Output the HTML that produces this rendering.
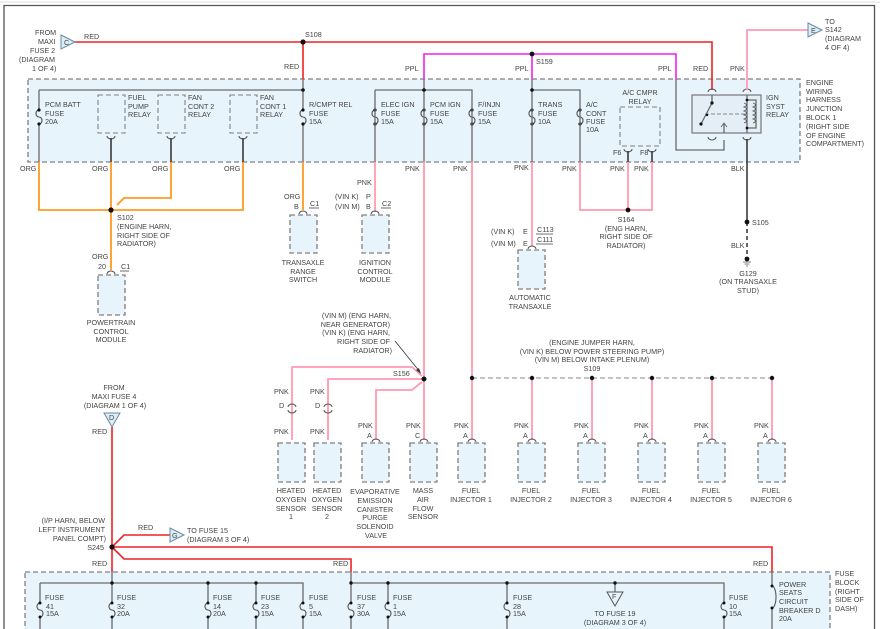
<!DOCTYPE html>
<html><head><meta charset="utf-8"><style>
html,body{margin:0;padding:0;background:#fff;}
svg{display:block;}
text{font-family:"Liberation Sans",sans-serif;font-size:7.2px;fill:#444;}
.g{stroke:#6a6a6a;stroke-width:1.3;fill:none;}
.k{stroke:#3a3a3a;stroke-width:1.6;fill:none;}
.r{stroke:#ee2222;stroke-width:1.6;fill:none;}
.p{stroke:#ee22ee;stroke-width:1.6;fill:none;}
.n{stroke:#ff9ab2;stroke-width:1.8;fill:none;}
.o{stroke:#ff9922;stroke-width:1.8;fill:none;}
.b{stroke:#808080;stroke-width:1.3;stroke-dasharray:5,3;fill:#e8f4fc;}
.d{stroke:#808080;stroke-width:1.1;stroke-dasharray:5,3;fill:none;}
.f{stroke:#555;stroke-width:1.1;fill:none;}
</style></head><body>
<svg width="880" height="629" viewBox="0 0 880 629" xmlns="http://www.w3.org/2000/svg">
<rect x="0" y="0" width="880" height="629" fill="#fff"/>
<line x1="0" y1="2" x2="880" y2="2" stroke="#ddd" stroke-width="1"/>
<path d="M4,629 V5.5 H874.5 V629" stroke="#555" stroke-width="1.3" fill="none"/>

<!-- junction block -->
<rect x="28" y="79" width="772" height="83" class="b"/>
<!-- fuse block bottom -->
<rect x="25" y="572" width="805" height="70" class="b"/>

<!-- RED top -->
<path class="r" d="M75,42 H712 V90"/>
<path class="r" d="M303,42 V79"/>
<circle cx="303" cy="42" r="2.6" fill="#111"/>
<polygon points="61,35 75,42 61,49" fill="#dbeef8" stroke="#6a8aa0" stroke-width="1"/>
<text x="64" y="45" font-size="6.5">C</text>
<text x="84" y="39">RED</text>
<text x="305" y="37">S108</text>
<text x="284" y="69">RED</text>
<text x="35" y="35">FROM</text><text x="38" y="44">MAXI</text><text x="30" y="53">FUSE 2</text><text x="19" y="62">(DIAGRAM</text><text x="32" y="71">1 OF 4)</text>

<!-- left bus -->
<path class="g" d="M39,90 H303 M303,79 V162"/>
<circle cx="303" cy="90" r="1.8" fill="#111"/>
<path class="g" d="M39,90 V162"/>
<!-- fuses symbol helper drawn manually -->
<g class="f">
<path d="M39,110 a3,3.5 0 0 0 0,7 a3,3.5 0 0 1 0,7"/>
<path d="M303,110 a3,3.5 0 0 0 0,7 a3,3.5 0 0 1 0,7"/>
<path d="M375,110 a3,3.5 0 0 0 0,7 a3,3.5 0 0 1 0,7"/>
<path d="M424,110 a3,3.5 0 0 0 0,7 a3,3.5 0 0 1 0,7"/>
<path d="M472,110 a3,3.5 0 0 0 0,7 a3,3.5 0 0 1 0,7"/>
<path d="M532,110 a3,3.5 0 0 0 0,7 a3,3.5 0 0 1 0,7"/>
<path d="M580,110 a3,3.5 0 0 0 0,7 a3,3.5 0 0 1 0,7"/>
</g>
<rect x="36" y="110.5" width="6" height="13" fill="#e8f4fc"/>
<rect x="300" y="110.5" width="6" height="13" fill="#e8f4fc"/>
<rect x="372" y="110.5" width="6" height="13" fill="#e8f4fc"/>
<rect x="421" y="110.5" width="6" height="13" fill="#e8f4fc"/>
<rect x="469" y="110.5" width="6" height="13" fill="#e8f4fc"/>
<rect x="529" y="110.5" width="6" height="13" fill="#e8f4fc"/>
<rect x="577" y="110.5" width="6" height="13" fill="#e8f4fc"/>
<g class="f">
<path d="M39,110 a3,3.5 0 0 0 0,7 a3,3.5 0 0 1 0,7"/>
<path d="M303,110 a3,3.5 0 0 0 0,7 a3,3.5 0 0 1 0,7"/>
<path d="M375,110 a3,3.5 0 0 0 0,7 a3,3.5 0 0 1 0,7"/>
<path d="M424,110 a3,3.5 0 0 0 0,7 a3,3.5 0 0 1 0,7"/>
<path d="M472,110 a3,3.5 0 0 0 0,7 a3,3.5 0 0 1 0,7"/>
<path d="M532,110 a3,3.5 0 0 0 0,7 a3,3.5 0 0 1 0,7"/>
<path d="M580,110 a3,3.5 0 0 0 0,7 a3,3.5 0 0 1 0,7"/>
</g>
<g fill="#111">
<circle cx="39" cy="110" r="1.6"/><circle cx="39" cy="124" r="1.6"/>
<circle cx="303" cy="110" r="1.6"/><circle cx="303" cy="124" r="1.6"/>
<circle cx="375" cy="110" r="1.6"/><circle cx="375" cy="124" r="1.6"/>
<circle cx="424" cy="110" r="1.6"/><circle cx="424" cy="124" r="1.6"/>
<circle cx="472" cy="110" r="1.6"/><circle cx="472" cy="124" r="1.6"/>
<circle cx="532" cy="110" r="1.6"/><circle cx="532" cy="124" r="1.6"/>
<circle cx="580" cy="110" r="1.6"/><circle cx="580" cy="124" r="1.6"/>
</g>
<text x="45" y="107">PCM BATT</text><text x="45" y="116">FUSE</text><text x="45" y="124">20A</text>
<text x="309" y="107">R/CMPT REL</text><text x="309" y="116">FUSE</text><text x="309" y="124">15A</text>
<text x="381" y="107">ELEC IGN</text><text x="381" y="116">FUSE</text><text x="381" y="124">15A</text>
<text x="430" y="107">PCM IGN</text><text x="430" y="116">FUSE</text><text x="430" y="124">15A</text>
<text x="478" y="107">F/INJN</text><text x="478" y="116">FUSE</text><text x="478" y="124">15A</text>
<text x="538" y="107">TRANS</text><text x="538" y="116">FUSE</text><text x="538" y="124">10A</text>
<text x="586" y="107">A/C</text><text x="586" y="116">CONT</text><text x="586" y="124">FUSE</text><text x="586" y="132">10A</text>

<!-- relays left -->
<rect x="98" y="95" width="27" height="38" class="d"/>
<rect x="158" y="95" width="27" height="38" class="d"/>
<rect x="230" y="95" width="27" height="38" class="d"/>
<text x="128" y="100">FUEL</text><text x="128" y="109">PUMP</text><text x="128" y="117">RELAY</text>
<text x="188" y="100">FAN</text><text x="188" y="109">CONT 2</text><text x="188" y="117">RELAY</text>
<text x="260" y="100">FAN</text><text x="260" y="109">CONT 1</text><text x="260" y="117">RELAY</text>
<g class="f"><path d="M107,136 a4,3 0 0 0 8,0"/><path d="M167,136 a4,3 0 0 0 8,0"/><path d="M239,136 a4,3 0 0 0 8,0"/></g>
<path class="k" d="M111,138 V162 M171,138 V162 M243,138 V162"/>
<!-- ORG -->
<path class="o" d="M39,162 V210 H243 V162 M111,162 V270 M171,162 V198 H124 L117,205"/>
<path class="o" d="M303,162 V210"/>
<circle cx="111" cy="210" r="2.6" fill="#111"/>
<text x="20" y="171">ORG</text><text x="92" y="171">ORG</text><text x="152" y="171">ORG</text><text x="224" y="171">ORG</text>
<text x="117" y="220">S102</text><text x="117" y="229">(ENGINE HARN,</text><text x="117" y="238">RIGHT SIDE OF</text><text x="117" y="246">RADIATOR)</text>
<text x="92" y="259">ORG</text><text x="98" y="269">20</text><text x="121" y="269">C1</text><line x1="120" y1="271" x2="129" y2="271" stroke="#444" stroke-width=".8"/>
<path class="f" d="M107,274 a4,3 0 0 1 8,0"/>
<rect x="98" y="275" width="27" height="40" class="b"/>
<text x="111" y="325" text-anchor="middle">POWERTRAIN</text><text x="111" y="334" text-anchor="middle">CONTROL</text><text x="111" y="342" text-anchor="middle">MODULE</text>

<!-- transaxle range switch -->
<text x="284" y="199">ORG</text><text x="294" y="209">B</text><text x="310" y="206">C1</text><line x1="309" y1="208" x2="319" y2="208" stroke="#444" stroke-width=".8"/>
<path class="f" d="M299,214 a4,3 0 0 1 8,0"/>
<rect x="290" y="215" width="27" height="38" class="b"/>
<text x="303" y="265" text-anchor="middle">TRANSAXLE</text><text x="303" y="274" text-anchor="middle">RANGE</text><text x="303" y="282" text-anchor="middle">SWITCH</text>

<!-- PPL -->
<path class="p" d="M424,79 V54 H676 V79"/>
<path class="p" d="M532,54 V79"/>
<circle cx="532" cy="54" r="2.4" fill="#111"/>
<text x="536" y="64">S159</text>
<text x="405" y="71">PPL</text><text x="515" y="71">PPL</text><text x="658" y="71">PPL</text>
<path class="g" d="M424,79 V162 M375,90 H472 V162 M375,90 V162 M532,79 V162 M532,90 H580 V162"/>
<circle cx="424" cy="90" r="1.8" fill="#111"/><circle cx="532" cy="90" r="1.8" fill="#111"/>
<path class="g" d="M676,79 V150 H724 V140"/>

<!-- ignition control module -->
<path class="n" d="M375,162 V212"/>
<text x="357" y="185">PNK</text><text x="335" y="199">(VIN K)</text><text x="335" y="209">(VIN M)</text>
<text x="366" y="199">P</text><text x="366" y="209">B</text><text x="382" y="206">C2</text><line x1="381" y1="208" x2="391" y2="208" stroke="#444" stroke-width=".8"/>
<path class="f" d="M371,214 a4,3 0 0 1 8,0"/>
<rect x="362" y="215" width="27" height="38" class="b"/>
<text x="375" y="265" text-anchor="middle">IGNITION</text><text x="375" y="274" text-anchor="middle">CONTROL</text><text x="375" y="282" text-anchor="middle">MODULE</text>

<text x="405" y="171">PNK</text><text x="453" y="171">PNK</text><text x="514" y="170">PNK</text><text x="562" y="171">PNK</text><text x="610" y="171">PNK</text><text x="634" y="171">PNK</text>

<!-- trans -->
<path class="n" d="M532,162 V246"/>
<text x="491" y="234">(VIN K)</text><text x="491" y="246">(VIN M)</text><text x="523" y="234">E</text><text x="523" y="246">E</text>
<text x="537" y="232">C113</text><text x="537" y="242">C111</text><line x1="536" y1="234" x2="553" y2="234" stroke="#444" stroke-width=".8"/><line x1="536" y1="244" x2="553" y2="244" stroke="#444" stroke-width=".8"/>
<path class="f" d="M528,249 a4,3 0 0 1 8,0"/>
<rect x="518" y="250" width="27" height="39" class="b"/>
<text x="530" y="300" text-anchor="middle">AUTOMATIC</text><text x="530" y="309" text-anchor="middle">TRANSAXLE</text>

<!-- A/C relay -->
<rect x="620" y="107" width="40" height="39" class="d"/>
<text x="640" y="95" text-anchor="middle">A/C CMPR</text><text x="640" y="104" text-anchor="middle">RELAY</text>
<text x="613" y="155">F6</text><text x="640" y="155">F8</text>
<path class="f" d="M624,149 a4,3 0 0 0 8,0 M648,149 a4,3 0 0 0 8,0"/>
<path class="k" d="M628,151 V162 M652,151 V162"/>
<path class="n" d="M580,162 V210 H652 V162 M628,162 V210"/>
<circle cx="628" cy="210" r="2.4" fill="#111"/>
<text x="626" y="222" text-anchor="middle">S164</text><text x="626" y="231" text-anchor="middle">(ENG HARN,</text><text x="626" y="239" text-anchor="middle">RIGHT SIDE OF</text><text x="626" y="248" text-anchor="middle">RADIATOR)</text>

<!-- IGN relay -->
<rect x="692" y="95" width="69" height="38" fill="#e3eef6" stroke="#777" stroke-width="1.2"/>
<path class="f" d="M708,92 a4,3 0 0 1 8,0 M743,92 a4,3 0 0 1 8,0 M708,137 a4,3 0 0 0 8,0 M743,137 a4,3 0 0 0 8,0"/>
<path class="g" d="M712,95 V103 M701,124 L712,103 M747,95 V133 M724,133 V124 M747,100 H756 V128 H747"/>
<path d="M744,103 q5,2 0,4 q5,2 0,4 q5,2 0,4 q5,2 0,4 q5,2 0,4 M753,103 q5,2 0,4 q5,2 0,4 q5,2 0,4 q5,2 0,4 q5,2 0,4" stroke="#555" fill="none" stroke-width=".9"/>
<line x1="705" y1="114" x2="745" y2="114" stroke="#888" stroke-width=".9" stroke-dasharray="4,2"/>
<path d="M721,127 L724,123 L727,127" stroke="#555" fill="none" stroke-width=".8"/>
<circle cx="712" cy="103" r="1.6" fill="#111"/><circle cx="701" cy="124" r="1.6" fill="#111"/><circle cx="707" cy="115" r="1.2" fill="#111"/>
<circle cx="747" cy="100" r="1.4" fill="#111"/><circle cx="747" cy="128" r="1.4" fill="#111"/>
<text x="766" y="100">IGN</text><text x="766" y="109">SYST</text><text x="766" y="117">RELAY</text>
<path class="n" d="M747,90 V30 H808"/>
<polygon points="808,23 822,30 808,37" fill="#dbeef8" stroke="#6a8aa0" stroke-width="1"/>
<text x="811" y="33" font-size="6.5">E</text>
<text x="825" y="24">TO</text><text x="825" y="32">S142</text><text x="825" y="41">(DIAGRAM</text><text x="825" y="50">4 OF 4)</text>
<text x="693" y="71">RED</text><text x="730" y="71">PNK</text>
<path class="k" d="M747,139 V222"/>
<path d="M747,222 V258" stroke="#333" stroke-width="1.5" stroke-dasharray="4,3"/>
<circle cx="747" cy="222" r="2.4" fill="#111"/>
<circle cx="747" cy="259" r="2.4" fill="#111"/>
<path d="M743,262 H751 M744.5,264 H749.5 M746,266 H748" stroke="#555" stroke-width=".8"/>
<text x="752" y="225">S105</text><text x="731" y="171">BLK</text><text x="731" y="248">BLK</text>
<text x="748" y="276" text-anchor="middle">G129</text><text x="748" y="284" text-anchor="middle">(ON TRANSAXLE</text><text x="748" y="293" text-anchor="middle">STUD)</text>
<text x="806" y="85">ENGINE</text><text x="806" y="94">WIRING</text><text x="806" y="102">HARNESS</text><text x="806" y="111">JUNCTION</text><text x="806" y="120">BLOCK 1</text><text x="806" y="129">(RIGHT SIDE</text><text x="806" y="138">OF ENGINE</text><text x="806" y="146">COMPARTMENT)</text>

<!-- S156 group -->
<path class="n" d="M424,162 V440 M472,162 V378"/>
<path class="n" d="M292,440 V367 H412 L422,376 M328,440 V379 H424 M376,440 V390 H412 L422,382"/>
<circle cx="424" cy="379" r="2.5" fill="#111"/>
<text x="393" y="376">S156</text>
<line x1="395" y1="341" x2="420" y2="372" stroke="#333" stroke-width=".8"/>
<polygon points="421,374 416,370 419,368" fill="#333"/>
<text x="391" y="318" text-anchor="end">(VIN M) (ENG HARN,</text><text x="390" y="327" text-anchor="end">NEAR GENERATOR)</text><text x="390" y="335" text-anchor="end">(VIN K) (ENG HARN,</text><text x="390" y="344" text-anchor="end">RIGHT SIDE OF</text><text x="392" y="353" text-anchor="end">RADIATOR)</text>
<text x="274" y="394">PNK</text><text x="310" y="394">PNK</text>
<text x="279" y="408">D</text><text x="315" y="408">D</text>
<path class="f" d="M288,407 a4,3 0 0 1 8,0 M288,410 a4,3 0 0 0 8,0 M324,407 a4,3 0 0 1 8,0 M324,410 a4,3 0 0 0 8,0"/>
<text x="274" y="434">PNK</text><text x="310" y="434">PNK</text>
<text x="358" y="428">PNK</text><text x="367" y="438">A</text>
<text x="406" y="428">PNK</text><text x="415" y="438">C</text>
<path class="f" d="M372,442 a4,3 0 0 1 8,0 M420,442 a4,3 0 0 1 8,0"/>
<rect x="278" y="443" width="27" height="39" class="b"/>
<rect x="314" y="443" width="27" height="39" class="b"/>
<rect x="362" y="443" width="27" height="39" class="b"/>
<rect x="410" y="443" width="27" height="39" class="b"/>
<g text-anchor="middle">
<text x="291" y="493">HEATED</text><text x="291" y="502">OXYGEN</text><text x="291" y="511">SENSOR</text><text x="291" y="519">1</text>
<text x="327" y="493">HEATED</text><text x="327" y="502">OXYGEN</text><text x="327" y="511">SENSOR</text><text x="327" y="519">2</text>
<text x="375" y="494">EVAPORATIVE</text><text x="375" y="503">EMISSION</text><text x="375" y="512">CANISTER</text><text x="375" y="520">PURGE</text><text x="375" y="529">SOLENOID</text><text x="376" y="538">VALVE</text>
<text x="423" y="493">MASS</text><text x="423" y="502">AIR</text><text x="423" y="511">FLOW</text><text x="423" y="519">SENSOR</text>
</g>

<!-- S109 injectors -->
<line x1="472" y1="378" x2="772" y2="378" stroke="#888" stroke-width="1" stroke-dasharray="5,3"/>
<g text-anchor="middle">
<text x="592" y="345">(ENGINE JUMPER HARN,</text><text x="592" y="354">(VIN K) BELOW POWER STEERING PUMP)</text><text x="592" y="362">(VIN M) BELOW INTAKE PLENUM)</text><text x="592" y="371">S109</text>
</g>
<path class="n" d="M472,378 V440 M532,378 V440 M592,378 V440 M652,378 V440 M712,378 V440 M772,378 V440"/>
<g fill="#111"><circle cx="472" cy="378" r="2.2"/><circle cx="532" cy="378" r="2.2"/><circle cx="592" cy="378" r="2.2"/><circle cx="652" cy="378" r="2.2"/><circle cx="712" cy="378" r="2.2"/><circle cx="772" cy="378" r="2.2"/></g>
<path class="f" d="M468,442 a4,3 0 0 1 8,0 M528,442 a4,3 0 0 1 8,0 M588,442 a4,3 0 0 1 8,0 M648,442 a4,3 0 0 1 8,0 M708,442 a4,3 0 0 1 8,0 M768,442 a4,3 0 0 1 8,0"/>
<text x="454" y="428">PNK</text><text x="463" y="438">A</text>
<text x="514" y="428">PNK</text><text x="523" y="438">A</text>
<text x="574" y="428">PNK</text><text x="583" y="438">A</text>
<text x="634" y="428">PNK</text><text x="643" y="438">A</text>
<text x="694" y="428">PNK</text><text x="703" y="438">A</text>
<text x="754" y="428">PNK</text><text x="763" y="438">A</text>
<rect x="458" y="443" width="27" height="39" class="b"/>
<rect x="518" y="443" width="27" height="39" class="b"/>
<rect x="578" y="443" width="27" height="39" class="b"/>
<rect x="638" y="443" width="27" height="39" class="b"/>
<rect x="698" y="443" width="27" height="39" class="b"/>
<rect x="758" y="443" width="27" height="39" class="b"/>
<g text-anchor="middle">
<text x="471" y="493">FUEL</text><text x="471" y="502">INJECTOR 1</text>
<text x="531" y="493">FUEL</text><text x="531" y="502">INJECTOR 2</text>
<text x="591" y="493">FUEL</text><text x="591" y="502">INJECTOR 3</text>
<text x="651" y="493">FUEL</text><text x="651" y="502">INJECTOR 4</text>
<text x="711" y="493">FUEL</text><text x="711" y="502">INJECTOR 5</text>
<text x="771" y="493">FUEL</text><text x="771" y="502">INJECTOR 6</text>
</g>

<!-- bottom red -->
<g text-anchor="middle"><text x="114" y="390">FROM</text><text x="114" y="399">MAXI FUSE 4</text><text x="115" y="408">(DIAGRAM 1 OF 4)</text></g>
<polygon points="104,413 120,413 112,427" fill="#dbeef8" stroke="#6a8aa0" stroke-width="1"/>
<text x="109" y="420" font-size="6.5">D</text>
<text x="92" y="434">RED</text>
<path class="r" d="M112,427 V572"/>
<path class="r" d="M112,547 L124,535 H170 M112,547 H772 V572 M112,547 L124,559 H351 V572"/>
<circle cx="112" cy="547" r="2.6" fill="#111"/>
<polygon points="170,528 184,535 170,542" fill="#dbeef8" stroke="#6a8aa0" stroke-width="1"/>
<text x="172" y="538" font-size="6.5">G</text>
<text x="138" y="530">RED</text>
<text x="187" y="533">TO FUSE 15</text><text x="187" y="542">(DIAGRAM 3 OF 4)</text>
<text x="105" y="523" text-anchor="end">(I/P HARN, BELOW</text><text x="105" y="532" text-anchor="end">LEFT INSTRUMENT</text><text x="106" y="541" text-anchor="end">PANEL COMPT)</text><text x="104" y="550" text-anchor="end">S245</text>
<text x="92" y="566">RED</text><text x="333" y="566">RED</text><text x="753" y="566">RED</text>

<!-- fuse block bus -->
<path class="g" d="M112,572 V629 M40,583 H303 V629 M40,583 V629 M351,572 V629 M351,583 H724 V629 M208,583 V629 M256,583 V629 M388,583 V629 M507,583 V629 M615,583 V592 M772,572 V629"/>
<g fill="#e8f4fc">
<rect x="37" y="603.5" width="6" height="13"/><rect x="109" y="603.5" width="6" height="13"/><rect x="205" y="603.5" width="6" height="13"/><rect x="253" y="603.5" width="6" height="13"/><rect x="300" y="603.5" width="6" height="13"/><rect x="348" y="603.5" width="6" height="13"/><rect x="385" y="603.5" width="6" height="13"/><rect x="504" y="603.5" width="6" height="13"/><rect x="721" y="603.5" width="6" height="13"/><rect x="769" y="587" width="6" height="22"/>
</g>
<g class="f">
<path d="M40,603 a3,3.5 0 0 0 0,7 a3,3.5 0 0 1 0,7"/><path d="M112,603 a3,3.5 0 0 0 0,7 a3,3.5 0 0 1 0,7"/><path d="M208,603 a3,3.5 0 0 0 0,7 a3,3.5 0 0 1 0,7"/><path d="M256,603 a3,3.5 0 0 0 0,7 a3,3.5 0 0 1 0,7"/><path d="M303,603 a3,3.5 0 0 0 0,7 a3,3.5 0 0 1 0,7"/><path d="M351,603 a3,3.5 0 0 0 0,7 a3,3.5 0 0 1 0,7"/><path d="M388,603 a3,3.5 0 0 0 0,7 a3,3.5 0 0 1 0,7"/><path d="M507,603 a3,3.5 0 0 0 0,7 a3,3.5 0 0 1 0,7"/><path d="M724,603 a3,3.5 0 0 0 0,7 a3,3.5 0 0 1 0,7"/>
<path d="M772,586 a4,11 0 0 1 0,22"/>
</g>
<g fill="#111">
<circle cx="112" cy="583" r="1.7"/><circle cx="208" cy="583" r="1.7"/><circle cx="256" cy="583" r="1.7"/><circle cx="351" cy="583" r="1.7"/><circle cx="388" cy="583" r="1.7"/><circle cx="507" cy="583" r="1.7"/><circle cx="615" cy="583" r="1.7"/>
<circle cx="40" cy="603" r="1.5"/><circle cx="40" cy="617" r="1.5"/><circle cx="112" cy="603" r="1.5"/><circle cx="112" cy="617" r="1.5"/><circle cx="208" cy="603" r="1.5"/><circle cx="208" cy="617" r="1.5"/><circle cx="256" cy="603" r="1.5"/><circle cx="256" cy="617" r="1.5"/><circle cx="303" cy="603" r="1.5"/><circle cx="303" cy="617" r="1.5"/><circle cx="351" cy="603" r="1.5"/><circle cx="351" cy="617" r="1.5"/><circle cx="388" cy="603" r="1.5"/><circle cx="388" cy="617" r="1.5"/><circle cx="507" cy="603" r="1.5"/><circle cx="507" cy="617" r="1.5"/><circle cx="724" cy="603" r="1.5"/><circle cx="724" cy="617" r="1.5"/><circle cx="772" cy="586" r="1.5"/><circle cx="772" cy="608" r="1.5"/>
</g>
<polygon points="607,592 623,592 615,606" fill="none" stroke="#555" stroke-width="1"/>
<text x="612" y="599" font-size="6">F</text>
<text x="615" y="616" text-anchor="middle">TO FUSE 19</text><text x="615" y="625" text-anchor="middle">(DIAGRAM 3 OF 4)</text>
<text x="45" y="600">FUSE</text><text x="46" y="609">41</text><text x="46" y="616">15A</text>
<text x="117" y="600">FUSE</text><text x="117" y="609">32</text><text x="117" y="616">20A</text>
<text x="213" y="600">FUSE</text><text x="213" y="609">14</text><text x="213" y="616">20A</text>
<text x="261" y="600">FUSE</text><text x="261" y="609">23</text><text x="261" y="616">15A</text>
<text x="309" y="600">FUSE</text><text x="309" y="609">5</text><text x="309" y="616">15A</text>
<text x="357" y="600">FUSE</text><text x="357" y="609">37</text><text x="357" y="616">30A</text>
<text x="393" y="600">FUSE</text><text x="393" y="609">1</text><text x="393" y="616">15A</text>
<text x="513" y="600">FUSE</text><text x="513" y="609">28</text><text x="513" y="616">15A</text>
<text x="729" y="600">FUSE</text><text x="729" y="609">10</text><text x="729" y="616">15A</text>
<text x="779" y="587">POWER</text><text x="779" y="595">SEATS</text><text x="779" y="604">CIRCUIT</text><text x="779" y="613">BREAKER D</text><text x="779" y="621">20A</text>
<text x="835" y="576">FUSE</text><text x="835" y="585">BLOCK</text><text x="835" y="594">(RIGHT</text><text x="835" y="602">SIDE OF</text><text x="835" y="611">DASH)</text>
</svg>
</body></html>
